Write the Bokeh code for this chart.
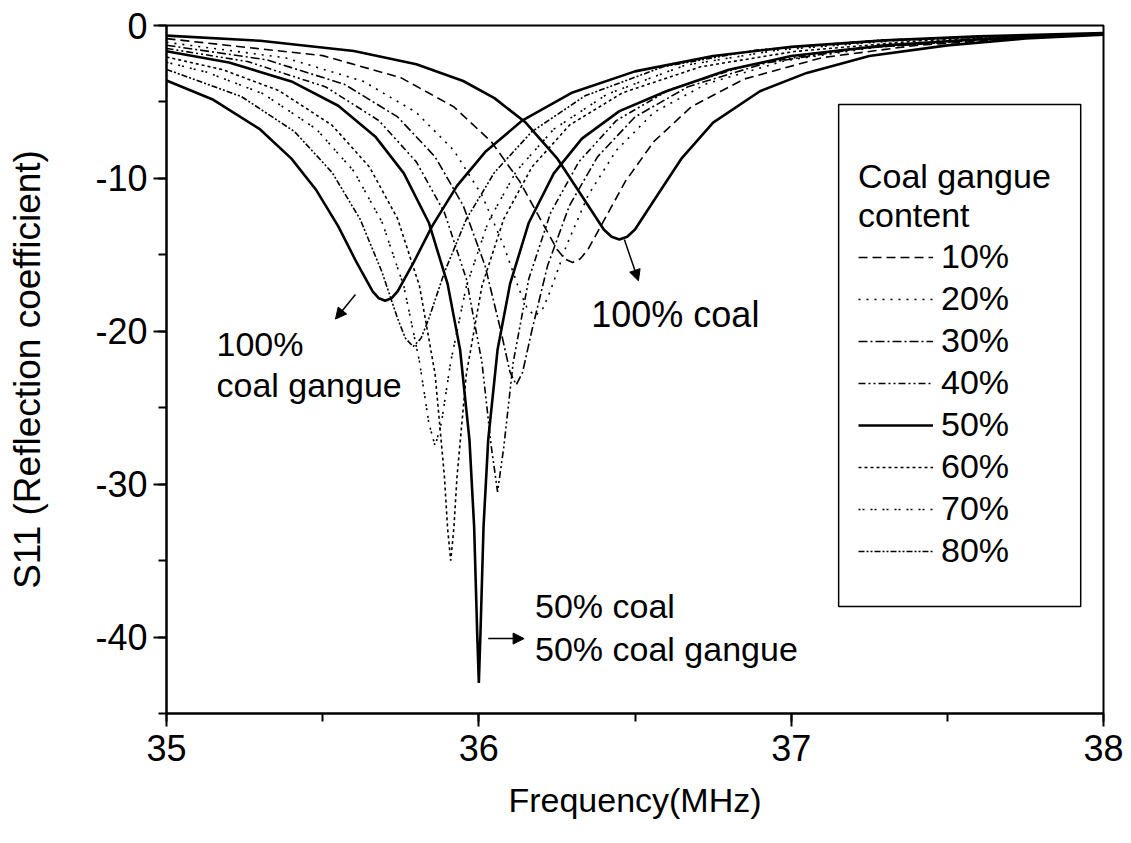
from bokeh.plotting import figure
from bokeh.models import (Range1d, SingleIntervalTicker, Legend, LegendItem, PrintfTickFormatter,
                          Label, Arrow, NormalHead, BoxAnnotation)
from bokeh.embed import file_html
from bokeh.resources import INLINE

# ---------------- data ----------------
x_coal = [35.0, 35.3, 35.6, 35.8, 35.95, 36.05, 36.15, 36.25, 36.33, 36.40, 36.425, 36.45, 36.475,
          36.50, 36.57, 36.65, 36.75, 36.9, 37.05, 37.25, 37.5, 37.75, 38.0]
y_coal = [-0.66, -1.0, -1.67, -2.53, -3.63, -4.75, -6.35, -8.67, -11.15, -13.34, -13.82, -14.0, -13.82,
          -13.34, -11.15, -8.67, -6.35, -4.3, -3.1, -2.0, -1.3, -0.85, -0.6]

x_10 = [35.0, 35.5, 35.75, 35.92, 36.04, 36.13, 36.2, 36.25, 36.275, 36.30, 36.325, 36.35, 36.40,
        36.47, 36.56, 36.68, 36.85, 37.1, 37.4, 37.8, 38.0]
y_10 = [-0.86, -1.97, -3.41, -5.32, -7.60, -10.17, -12.77, -14.63, -15.26, -15.5, -15.26, -14.63, -12.77,
        -10.17, -7.60, -5.32, -3.5, -2.1, -1.3, -0.75, -0.58]

x_20 = [35.0, 35.38, 35.63, 35.8, 35.92, 36.01, 36.08, 36.13, 36.155, 36.18, 36.205, 36.23, 36.28,
        36.35, 36.44, 36.56, 36.73, 36.98, 37.28, 37.68, 38.0]
y_20 = [-1.10, -2.11, -3.65, -5.69, -8.17, -11.10, -14.42, -17.31, -18.51, -19.0, -18.51, -17.31, -14.42,
        -11.10, -8.17, -5.69, -3.8, -2.3, -1.4, -0.85, -0.57]

x_30 = [35.0, 35.32, 35.57, 35.74, 35.86, 35.95, 36.02, 36.07, 36.10, 36.12, 36.14, 36.17,
        36.22, 36.29, 36.38, 36.50, 36.67, 36.92, 37.22, 37.62, 38.0]
y_30 = [-1.29, -2.24, -3.85, -5.98, -8.59, -11.78, -15.72, -19.93, -22.69, -23.5, -22.69, -19.93,
        -15.72, -11.78, -8.59, -5.98, -4.0, -2.45, -1.5, -0.9, -0.56]

x_40 = [35.0, 35.26, 35.51, 35.68, 35.80, 35.89, 35.96, 36.01, 36.04, 36.06, 36.08, 36.11,
        36.16, 36.23, 36.32, 36.44, 36.61, 36.86, 37.16, 37.56, 38.0]
y_40 = [-1.50, -2.36, -4.02, -6.22, -8.92, -12.24, -16.57, -22.04, -27.56, -30.5, -27.56, -22.04,
        -16.57, -12.24, -8.92, -6.22, -4.2, -2.6, -1.6, -0.95, -0.55]

x_50 = [35.0, 35.2, 35.4, 35.55, 35.67, 35.76, 35.84, 35.9, 35.94, 35.97, 35.985, 35.995,
        36.0, 36.005, 36.015, 36.03, 36.06, 36.1, 36.16, 36.24, 36.33, 36.45, 36.6, 36.8,
        37.0, 37.3, 37.6, 38.0]
y_50 = [-1.69, -2.42, -3.66, -5.25, -7.30, -9.67, -12.9, -16.9, -21.2, -27.1, -32.8, -39.9,
        -43.0, -39.9, -32.8, -27.1, -21.2, -16.9, -12.9, -9.67, -7.4, -5.6, -4.3, -2.9,
        -2.0, -1.3, -0.9, -0.54]

x_60 = [35.0, 35.18, 35.36, 35.53, 35.65, 35.74, 35.81, 35.86, 35.89, 35.90, 35.91, 35.92,
        35.93, 35.96, 36.01, 36.08, 36.17, 36.29, 36.46, 36.71, 37.01, 37.41, 38.0]
y_60 = [-2.06, -2.89, -4.26, -6.52, -9.26, -12.64, -17.04, -22.80, -29.55, -32.9, -35.0, -32.9,
        -29.55, -22.80, -17.04, -12.64, -9.26, -6.52, -4.4, -2.7, -1.7, -1.0, -0.53]

x_70 = [35.0, 35.13, 35.31, 35.48, 35.60, 35.69, 35.76, 35.81, 35.84, 35.86, 35.88, 35.91,
        35.96, 36.03, 36.12, 36.24, 36.41, 36.66, 36.96, 37.36, 38.0]
y_70 = [-2.40, -3.06, -4.47, -6.78, -9.53, -12.85, -17.06, -21.99, -26.01, -27.5, -26.01, -21.99,
        -17.06, -12.85, -9.53, -6.78, -4.5, -2.6, -1.6, -0.95, -0.52]

x_80 = [35.0, 35.24, 35.41, 35.53, 35.62, 35.69, 35.74, 35.765, 35.79, 35.815, 35.84, 35.89,
        35.96, 36.05, 36.17, 36.34, 36.59, 36.89, 37.29, 38.0]
y_80 = [-2.87, -4.65, -6.94, -9.61, -12.67, -16.13, -19.17, -20.46, -21.0, -20.46, -19.17, -16.13,
        -12.67, -9.61, -6.94, -4.6, -2.7, -1.6, -0.95, -0.51]

x_gangue = [35.0, 35.15, 35.3, 35.4, 35.48, 35.55, 35.61, 35.66, 35.68, 35.70, 35.72, 35.74,
            35.79, 35.85, 35.93, 36.02, 36.14, 36.3, 36.5, 36.75, 37.0, 37.3, 37.6, 38.0]
y_gangue = [-3.60, -4.86, -6.80, -8.71, -10.78, -13.14, -15.55, -17.39, -17.84, -18.0, -17.84, -17.39,
            -15.55, -13.14, -10.49, -8.28, -6.20, -4.38, -3.0, -1.99, -1.40, -0.97, -0.71, -0.50]

legend_labels = ["10%", "20%", "30%", "40%", "50%", "60%", "70%", "80%"]
legend_title = "Coal gangue\ncontent"

ann_text = ["100% coal", "100%", "coal gangue", "50% coal", "50% coal gangue"]
ann_x = [36.36, 35.16, 35.16, 36.18, 36.18]
ann_y = [-18.9, -20.85, -23.5, -37.95, -40.8]

arrow_x0 = [35.605, 36.466, 36.03]
arrow_y0 = [-17.6, -14.0, -40.1]
arrow_x1 = [35.541, 36.511, 36.145]
arrow_y1 = [-19.2, -16.7, -40.1]

# ---------------- styles ----------------
FONT = "Liberation Sans"
dash_styles = {"10%": "9 5", "20%": "2 6", "30%": "9 3 2 3", "40%": "7 3 2 3 2 3",
               "50%": "solid", "60%": "3 3", "70%": "2 2 2 6", "80%": "6 2 2 2 2 2"}
ann_sizes = ["36px", "34px", "34px", "34px", "34px"]

p = figure(width=1125, height=835, x_range=Range1d(35, 38), y_range=Range1d(-45, 0),
           output_backend="svg", toolbar_location=None,
           min_border_left=166, min_border_right=22, min_border_top=25, min_border_bottom=122)
p.background_fill_color = "white"
p.border_fill_color = "white"
p.grid.visible = False
p.outline_line_color = "black"
p.outline_line_width = 2
p.outline_line_alpha = 1

p.xaxis.ticker = SingleIntervalTicker(interval=1, num_minor_ticks=2)
p.yaxis.ticker = SingleIntervalTicker(interval=10, num_minor_ticks=2)
for ax in (p.xaxis[0], p.yaxis[0]):
    ax.formatter = PrintfTickFormatter(format="%d")
    ax.axis_line_width = 2
    ax.axis_line_color = "black"
    ax.major_tick_line_width = 2
    ax.minor_tick_line_width = 2
    ax.major_tick_line_color = "black"
    ax.minor_tick_line_color = "black"
    ax.major_tick_in = 0
    ax.major_tick_out = 13
    ax.minor_tick_in = 0
    ax.minor_tick_out = 8
    ax.major_label_text_font = FONT
    ax.major_label_text_font_size = "36px"
    ax.major_label_text_color = "black"
    ax.axis_label_text_font = FONT
    ax.axis_label_text_font_style = "normal"
    ax.axis_label_text_color = "black"
p.xaxis.axis_label = "Frequency(MHz)"
p.yaxis.axis_label = "S11 (Reflection coefficient)"
p.xaxis.axis_label_text_font_size = "34px"
p.yaxis.axis_label_text_font_size = "37px"
p.xaxis.major_label_standoff = 8
p.xaxis.axis_label_standoff = 17
p.yaxis.major_label_standoff = 6
p.yaxis.axis_label_standoff = 44

series = {"10%": (x_10, y_10), "20%": (x_20, y_20), "30%": (x_30, y_30), "40%": (x_40, y_40),
          "50%": (x_50, y_50), "60%": (x_60, y_60), "70%": (x_70, y_70), "80%": (x_80, y_80)}

renderers = {}
for lab in legend_labels:
    if lab == "50%":
        continue
    xs, ys = series[lab]
    renderers[lab] = p.line(xs, ys, line_color="black", line_width=1.6, line_dash=dash_styles[lab])

p.line(x_coal, y_coal, line_color="black", line_width=2.6)
p.line(x_gangue, y_gangue, line_color="black", line_width=2.6)
renderers["50%"] = p.line(x_50, y_50, line_color="black", line_width=2.6)

# legend frame
p.add_layout(BoxAnnotation(left=37.152, right=37.927, top=-5.16, bottom=-38.0,
                           fill_color=None, line_color="black", line_alpha=1, line_width=1.5))

legend = Legend(items=[LegendItem(label=lab, renderers=[renderers[lab]]) for lab in legend_labels],
                location=(692, 143), title=legend_title,
                title_text_font=FONT, title_text_font_size="34px", title_text_font_style="normal",
                title_text_color="black", title_standoff=2,
                label_text_font=FONT, label_text_font_size="34px", label_text_color="black",
                glyph_width=75, glyph_height=32, label_height=32, spacing=3, label_standoff=8,
                padding=0, margin=0, border_line_color=None, background_fill_alpha=0)
p.add_layout(legend)

for t, x, y, s in zip(ann_text, ann_x, ann_y, ann_sizes):
    p.add_layout(Label(x=x, y=y, text=t, text_font=FONT, text_font_size=s,
                       text_baseline="middle", text_color="black"))

for x0, y0, x1, y1 in zip(arrow_x0, arrow_y0, arrow_x1, arrow_y1):
    p.add_layout(Arrow(end=NormalHead(size=11, fill_color="black", line_color="black"),
                       x_start=x0, y_start=y0, x_end=x1, y_end=y1,
                       line_color="black", line_width=1.5))

open("out.html", "w").write(file_html(p, INLINE))
